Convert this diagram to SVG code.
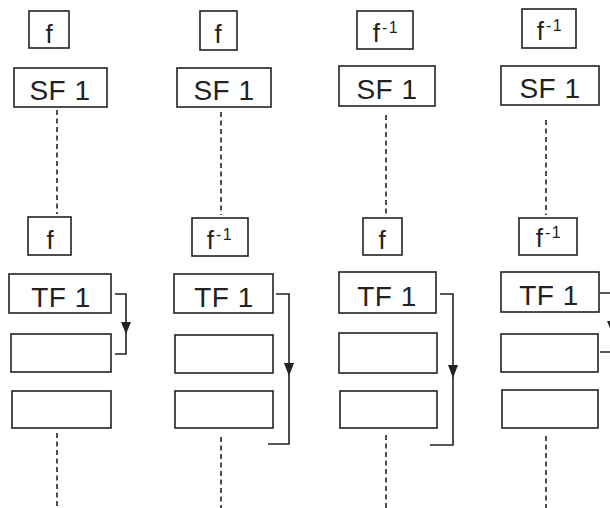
<svg xmlns="http://www.w3.org/2000/svg" width="610" height="508" viewBox="0 0 610 508">
<style>
  .box { fill: #fff; stroke: #222; stroke-width: 1.6; }
  .lbl { font-family: "Liberation Sans", "DejaVu Sans", sans-serif; font-size: 28px; fill: #222; text-anchor: middle; letter-spacing: 0.5px; }
  .fl { font-family: "Liberation Sans", "DejaVu Sans", sans-serif; font-size: 26px; fill: #222; text-anchor: middle; }
  .sup { font-size: 16px; letter-spacing: 1.5px; }
  .dash { stroke: #222; stroke-width: 1.6; stroke-dasharray: 5 3.5; fill: none; }
  .conn { stroke: #222; stroke-width: 1.6; fill: none; }
  .arr { fill: #222; stroke: none; }
</style>
<rect width="610" height="508" fill="#fff"/>

<g id="connectors">
  <line class="dash" x1="57" y1="110" x2="57" y2="214"/>
  <line class="dash" x1="57" y1="433" x2="57" y2="508"/>
  <line class="dash" x1="221" y1="112" x2="221" y2="215"/>
  <line class="dash" x1="221" y1="437" x2="221" y2="508"/>
  <line class="dash" x1="386" y1="115" x2="386" y2="215"/>
  <line class="dash" x1="386" y1="435" x2="386" y2="508"/>
  <line class="dash" x1="546" y1="120" x2="546" y2="215"/>
  <line class="dash" x1="546" y1="436" x2="546" y2="508"/>

  <path class="conn" d="M115,294 H126 V354 H115"/>
  <polygon class="arr" points="121,322 131,322 126,334"/>
  <path class="conn" d="M276,294 H289 V444 H268"/>
  <polygon class="arr" points="284,363 294,363 289,376"/>
  <path class="conn" d="M440,294 H453 V445 H430"/>
  <polygon class="arr" points="448,365 458,365 453,378"/>
  <path class="conn" d="M600,293 H612 V352 H600"/>
  <polygon class="arr" points="607,321 617,321 612,333"/>
</g>

<!-- Column 1 -->
<g id="c1-f-top"><rect class="box" x="29" y="11" width="40" height="37"/><text class="fl" x="49" y="43">f</text></g>
<g id="c1-sf1"><rect class="box" x="14" y="68" width="93" height="39"/><text class="lbl" x="60" y="100">SF 1</text></g>
<g id="c1-f-low"><rect class="box" x="28" y="217" width="43" height="38"/><text class="fl" x="50" y="249">f</text></g>
<g id="c1-tf1"><rect class="box" x="9" y="274" width="102" height="39"/><text class="lbl" x="61" y="307">TF 1</text></g>
<g id="c1-b2"><rect class="box" x="11" y="334" width="100" height="38"/></g>
<g id="c1-b3"><rect class="box" x="12" y="391" width="99" height="37"/></g>

<!-- Column 2 -->
<g id="c2-f-top"><rect class="box" x="200" y="11" width="37" height="39"/><text class="fl" x="218" y="43">f</text></g>
<g id="c2-sf1"><rect class="box" x="177" y="68" width="94" height="39"/><text class="lbl" x="224" y="100">SF 1</text></g>
<g id="c2-f-low"><rect class="box" x="192" y="218" width="56" height="38"/><text class="fl" x="220" y="249">f<tspan class="sup" dx="2" dy="-9">-1</tspan></text></g>
<g id="c2-tf1"><rect class="box" x="174" y="274" width="99" height="39"/><text class="lbl" x="224" y="307">TF 1</text></g>
<g id="c2-b2"><rect class="box" x="175" y="335" width="98" height="38"/></g>
<g id="c2-b3"><rect class="box" x="175" y="391" width="98" height="37"/></g>

<!-- Column 3 -->
<g id="c3-f-top"><rect class="box" x="357" y="11" width="56" height="38"/><text class="fl" x="386" y="42">f<tspan class="sup" dx="2" dy="-9">-1</tspan></text></g>
<g id="c3-sf1"><rect class="box" x="339" y="66" width="96" height="40"/><text class="lbl" x="387" y="99">SF 1</text></g>
<g id="c3-f-low"><rect class="box" x="363" y="218" width="39" height="37"/><text class="fl" x="382" y="249">f</text></g>
<g id="c3-tf1"><rect class="box" x="339" y="272" width="97" height="41"/><text class="lbl" x="387" y="306">TF 1</text></g>
<g id="c3-b2"><rect class="box" x="339" y="333" width="98" height="40"/></g>
<g id="c3-b3"><rect class="box" x="340" y="391" width="97" height="37"/></g>

<!-- Column 4 -->
<g id="c4-f-top"><rect class="box" x="522" y="9" width="54" height="39"/><text class="fl" x="550" y="40">f<tspan class="sup" dx="2" dy="-9">-1</tspan></text></g>
<g id="c4-sf1"><rect class="box" x="501" y="66" width="98" height="39"/><text class="lbl" x="550" y="98">SF 1</text></g>
<g id="c4-f-low"><rect class="box" x="519" y="218" width="58" height="37"/><text class="fl" x="549" y="247">f<tspan class="sup" dx="2" dy="-9">-1</tspan></text></g>
<g id="c4-tf1"><rect class="box" x="501" y="272" width="98" height="40"/><text class="lbl" x="549" y="305">TF 1</text></g>
<g id="c4-b2"><rect class="box" x="501" y="334" width="97" height="38"/></g>
<g id="c4-b3"><rect class="box" x="502" y="390" width="96" height="38"/></g>
</svg>
